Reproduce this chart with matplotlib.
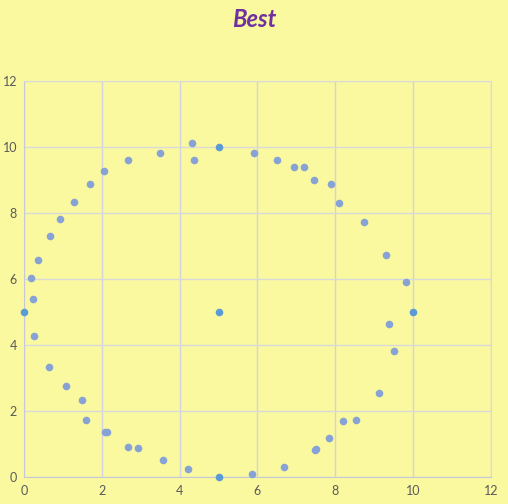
import matplotlib.pyplot as plt

# circle-ish points (grey blue series)
ring_x = [4.32, 4.37, 3.50, 2.68, 2.06, 1.70, 1.29, 0.93, 0.68, 0.37, 0.19, 0.24,
          0.26, 0.65, 1.07, 1.50, 1.60, 2.08, 2.13, 2.68, 2.94, 3.56, 4.22,
          5.87, 6.67, 7.47, 7.51, 7.85, 8.20, 8.54, 9.13, 9.51, 9.39, 9.82,
          9.31, 8.74, 8.10, 7.90, 7.46, 7.20, 6.95, 6.51, 5.92]
ring_y = [10.11, 9.60, 9.81, 9.60, 9.26, 8.87, 8.34, 7.81, 7.29, 6.57, 6.02, 5.40,
          4.26, 3.34, 2.75, 2.32, 1.72, 1.37, 1.37, 0.91, 0.88, 0.52, 0.25,
          0.08, 0.29, 0.81, 0.84, 1.17, 1.69, 1.72, 2.54, 3.83, 4.65, 5.90,
          6.72, 7.72, 8.29, 8.87, 8.99, 9.38, 9.38, 9.60, 9.81]

# highlighted points (bright blue series)
key_x = [0, 5, 5, 10, 5]
key_y = [5, 10, 5, 5, 0]

bg = '#FAF9A0'
fig = plt.figure(figsize=(5.08, 5.04), dpi=100, facecolor=bg)
ax = fig.add_axes([0.0472, 0.0536, 0.9193, 0.7857], facecolor=bg)

ax.scatter(ring_x, ring_y, s=30, color='#87A3D6', zorder=3, linewidths=0, clip_on=False)
ax.scatter(key_x, key_y, s=30, color='#5B9BD5', zorder=4, linewidths=0, clip_on=False)

ax.set_xlim(0, 12)
ax.set_ylim(0, 12)
ax.set_xticks(range(0, 13, 2))
ax.set_yticks(range(0, 13, 2))
ax.grid(axis='y', color='#D9D9D9', linewidth=1)
ax.grid(axis='x', color='#D3D3E0', linewidth=1)
ax.set_axisbelow(True)
for s in ax.spines.values():
    s.set_color('#D9D9D9')
ax.spines['left'].set_color('#C8C8DC')
ax.spines['bottom'].set_color('#C8C8D0')
ax.tick_params(length=0, labelsize=9, colors='#595959', pad=6)
ax.tick_params(axis='y', pad=5)
for lbl in ax.get_xticklabels() + ax.get_yticklabels():
    lbl.set_fontfamily('Lato')

fig.text(0.5, 0.985, 'Best', ha='center', va='top', fontsize=17,
         fontweight='bold', fontstyle='italic', color='#7030A0', family='Lato')

fig.savefig('out.png', dpi=100, facecolor=bg)
